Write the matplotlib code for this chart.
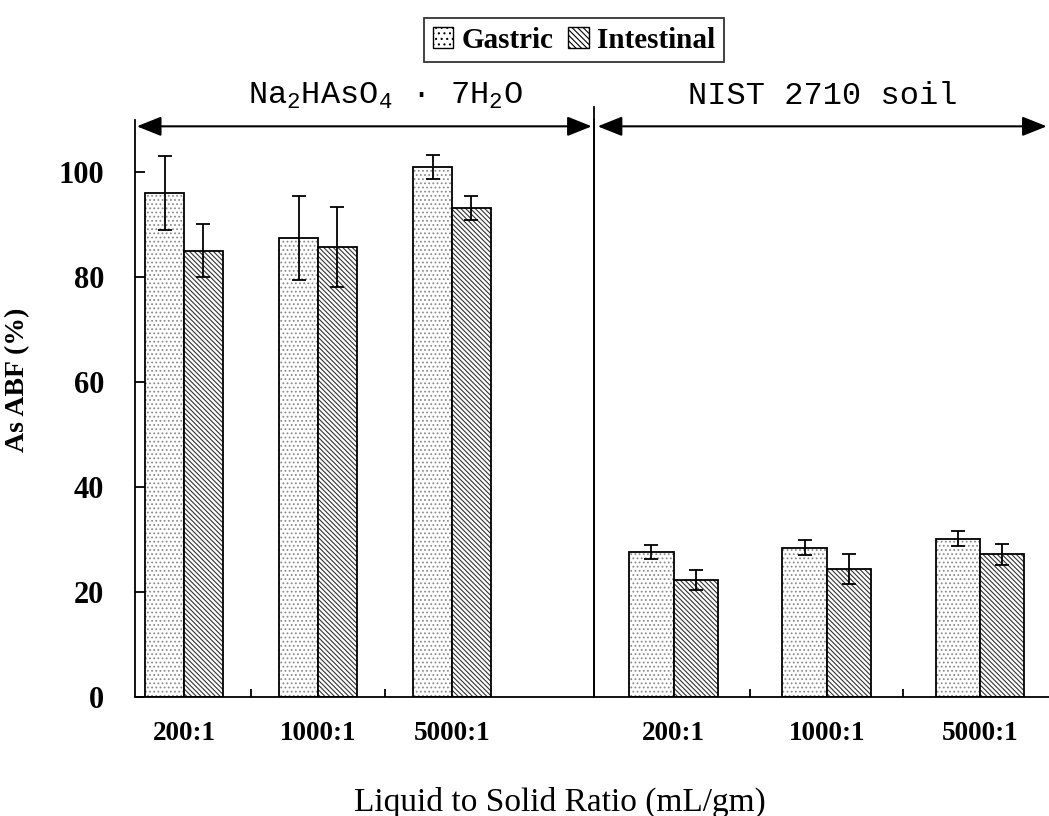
import numpy as np
import matplotlib.pyplot as plt
from matplotlib.patches import Patch

ratios = ['200:1', '1000:1', '5000:1']
salt_gastric = [96.1, 87.5, 101.1]
salt_gastric_err = [7.0, 8.0, 2.3]
salt_intestinal = [85.1, 85.8, 93.2]
salt_intestinal_err = [5.0, 7.6, 2.3]
soil_gastric = [27.6, 28.5, 30.2]
soil_gastric_err = [1.3, 1.4, 1.4]
soil_intestinal = [22.3, 24.4, 27.2]
soil_intestinal_err = [1.9, 2.9, 2.0]

plt.rcParams['font.family'] = 'Liberation Serif'
plt.rcParams['mathtext.default'] = 'regular'
plt.rcParams['hatch.linewidth'] = 0.8

fig = plt.figure(figsize=(10.49, 8.16), dpi=100)
ax1 = fig.add_axes([0.1287, 0.1458, 0.4376, 0.7071])
ax2 = fig.add_axes([0.5663, 0.1458, 0.4337, 0.7071])

W = 0.29


def draw_group(ax, gas, gas_err, intest, intest_err):
    x = np.arange(len(ratios))
    # hatch first, then black outline on top
    ax.bar(x - W/2, gas, W, color='white', edgecolor='#8c8c8c', hatch='....', linewidth=0)
    ax.bar(x - W/2, gas, W, fill=False, edgecolor='black', linewidth=1.3)
    ax.bar(x + W/2, intest, W, color='white', edgecolor='#333333', hatch='\\' * 7, linewidth=0)
    ax.bar(x + W/2, intest, W, fill=False, edgecolor='black', linewidth=1.3)
    ax.errorbar(x - W/2, gas, yerr=gas_err, fmt='none', ecolor='black',
                elinewidth=1.3, capsize=5, capthick=1.3)
    ax.errorbar(x + W/2, intest, yerr=intest_err, fmt='none', ecolor='black',
                elinewidth=1.3, capsize=5, capthick=1.3)
    ax.set_xticks(x)
    ax.set_xticklabels(ratios, fontsize=19.5, fontweight='bold')
    ax.set_xticks(x[:-1] + 0.5, minor=True)
    ax.tick_params(axis='x', which='major', length=0, pad=17)
    ax.tick_params(axis='x', which='minor', direction='in', length=6, width=1.3)
    ax.set_ylim(0, 110)
    for s in ['top', 'right']:
        ax.spines[s].set_visible(False)
    for s in ['left', 'bottom']:
        ax.spines[s].set_linewidth(1.3)


draw_group(ax1, salt_gastric, salt_gastric_err, salt_intestinal, salt_intestinal_err)
draw_group(ax2, soil_gastric, soil_gastric_err, soil_intestinal, soil_intestinal_err)

ax1.set_xlim(-0.366, 3.06)
ax2.set_xlim(-0.52, 2.45)

ax1.set_yticks(range(0, 101, 20))
ax1.tick_params(axis='y', direction='in', length=7, width=1.3, labelsize=22, pad=22)
for lab in ax1.get_yticklabels():
    lab.set_fontweight('bold')
ax1.set_ylabel('As ABF (%)', fontsize=20, fontweight='bold')
ax1.yaxis.set_label_coords(-0.229, 0.55)

ax2.set_yticks([])
ax2.axvline(ax2.get_xlim()[0], 0, 1.023, color='black', lw=1.3, clip_on=False)

# double-headed arrows over each half
arrow = dict(arrowstyle='<|-|>,head_length=0.75,head_width=0.3', color='black',
             lw=1.5, mutation_scale=20, shrinkA=0, shrinkB=0)
ax1.annotate('', xy=(0.004, 108.8), xytext=(0.995, 108.8),
             xycoords=ax1.get_yaxis_transform(), textcoords=ax1.get_yaxis_transform(),
             arrowprops=arrow, annotation_clip=False)
ax2.annotate('', xy=(0.008, 108.8), xytext=(0.995, 108.8),
             xycoords=ax2.get_yaxis_transform(), textcoords=ax2.get_yaxis_transform(),
             arrowprops=arrow, annotation_clip=False)

ax1.text(0.545, 114.5, 'Na$_2$HAsO$_4$ · 7H$_2$O', transform=ax1.get_yaxis_transform(),
         fontsize=23, family='Liberation Mono', ha='center', va='center')
ax2.text(0.503, 114.5, 'NIST 2710 soil', transform=ax2.get_yaxis_transform(),
         fontsize=23, family='Liberation Mono', ha='center', va='center')

fig.text(0.534, 0.007, 'Liquid to Solid Ratio (mL/gm)', fontsize=24, ha='center', va='baseline')

handles = [Patch(facecolor='white', edgecolor='black', hatch='...', label='Gastric'),
           Patch(facecolor='white', edgecolor='black', hatch='\\' * 6, label='Intestinal')]
leg = fig.legend(handles=handles, loc='center', bbox_to_anchor=(574/1049, 1 - 40/816),
                 ncol=2, frameon=True, fancybox=False, edgecolor='black',
                 prop={'weight': 'bold', 'size': 21}, handlelength=0.7, handleheight=0.7,
                 handletextpad=0.3, columnspacing=0.5, borderpad=0.3, borderaxespad=0)
leg.get_frame().set_linewidth(1.3)

fig.savefig('out.png', dpi=100)
